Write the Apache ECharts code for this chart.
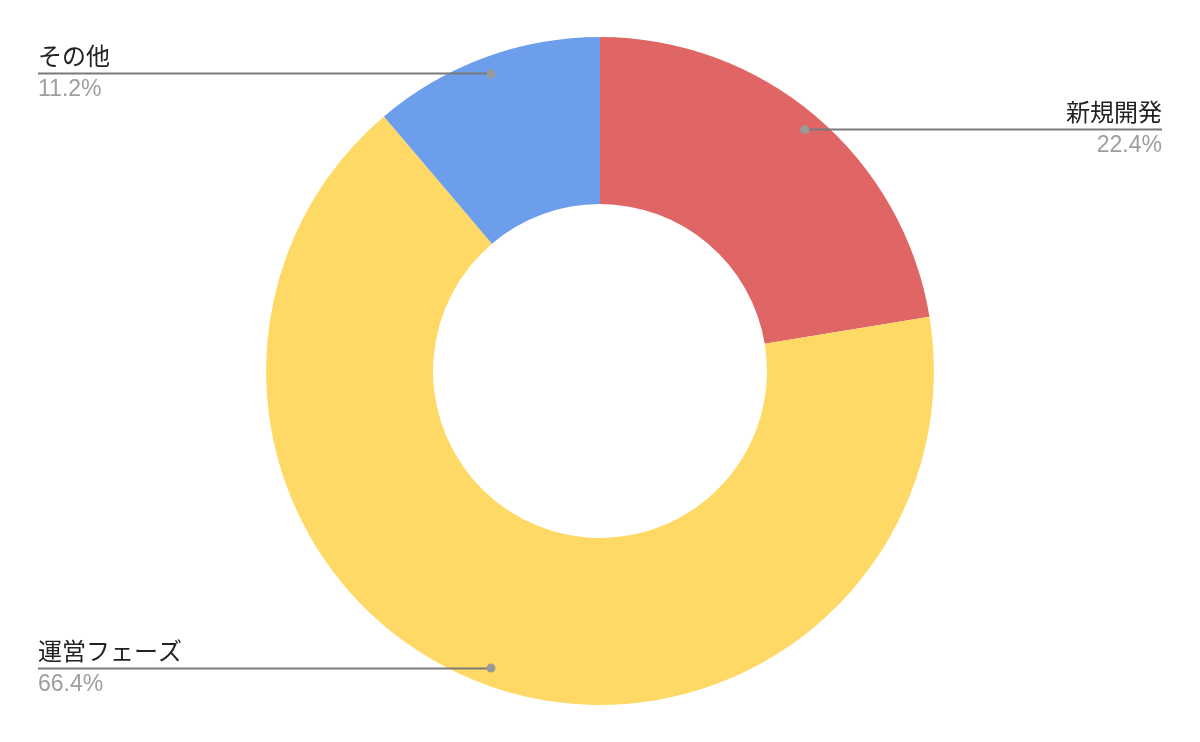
<!DOCTYPE html>
<html>
<head>
<meta charset="utf-8">
<script src="https://cdn.jsdelivr.net/npm/echarts@6/dist/echarts.min.js"></script>
<style>html,body{margin:0;padding:0;background:#fff;}#c{width:1200px;height:742px;}</style>
</head>
<body>
<div id="c"></div>
<script>
const categories = ['新規開発', '運営フェーズ', 'その他'];
const values = [22.4, 66.4, 11.2];
const colors = ['#E06666', '#FFD966', '#6D9EEB'];

const chart = echarts.init(document.getElementById('c'));
const total = values.reduce((a, b) => a + b, 0);
const data = categories.map((name, i) => ({ name, value: values[i], itemStyle: { color: colors[i] } }));
const ghostData = categories.map((name, i) => ({ name, value: values[i] }));
const EDGE = 38;

const option = {
  backgroundColor: '#ffffff',
  animation: false,
  series: [
    {
      type: 'pie',
      z: 1,
      radius: ['45%', '90%'],
      center: ['50%', '50%'],
      startAngle: 90,
      clockwise: true,
      silent: true,
      label: { show: false },
      labelLine: { show: false },
      data: data
    },
    {
      type: 'pie',
      z: 5,
      radius: ['0%', '85.4%'],
      center: ['50%', '50%'],
      startAngle: 90,
      clockwise: true,
      silent: true,
      itemStyle: { color: 'rgba(0,0,0,0)' },
      emphasis: { disabled: true },
      avoidLabelOverlap: false,
      label: {
        show: true,
        position: 'outside',
        formatter: function (p) {
          return '{n|' + p.name + '}\n{p|' + (p.value / total * 100).toFixed(1) + '%}';
        },
        rich: {
          n: { fontSize: 24, lineHeight: 33, color: '#222222', fontFamily: '"Noto Sans CJK JP", "Noto Sans", sans-serif' },
          p: { fontSize: 23, lineHeight: 35, color: '#9e9e9e', fontFamily: 'Arial, "Liberation Sans", sans-serif' }
        }
      },
      labelLine: { show: true, length: 0, length2: 0, lineStyle: { color: '#7a7a7a', width: 2 } },
      labelLayout: function (params) {
        const w = chart.getWidth();
        const pts = params.labelLinePoints;
        const p0 = pts[0];
        const isLeft = p0[0] < w / 2;
        const ex = isLeft ? EDGE : w - EDGE;
        return {
          x: ex,
          y: p0[1],
          align: isLeft ? 'left' : 'right',
          verticalAlign: 'middle',
          labelLinePoints: [[p0[0], p0[1]], [p0[0], p0[1]], [ex, p0[1]]]
        };
      },
      data: ghostData
    },
    {
      type: 'pie',
      z: 6,
      radius: ['84%', '85%'],
      center: ['50%', '50%'],
      startAngle: 90,
      clockwise: true,
      silent: true,
      itemStyle: { color: 'rgba(0,0,0,0)' },
      emphasis: { disabled: true },
      label: {
        show: true,
        position: 'inside',
        formatter: '{a| }',
        rich: { a: { width: 9, height: 9, borderRadius: 4.5, backgroundColor: '#9a9a9a', fontSize: 1 } }
      },
      labelLine: { show: false },
      data: ghostData
    }
  ]
};
chart.setOption(option);
</script>
</body>
</html>
